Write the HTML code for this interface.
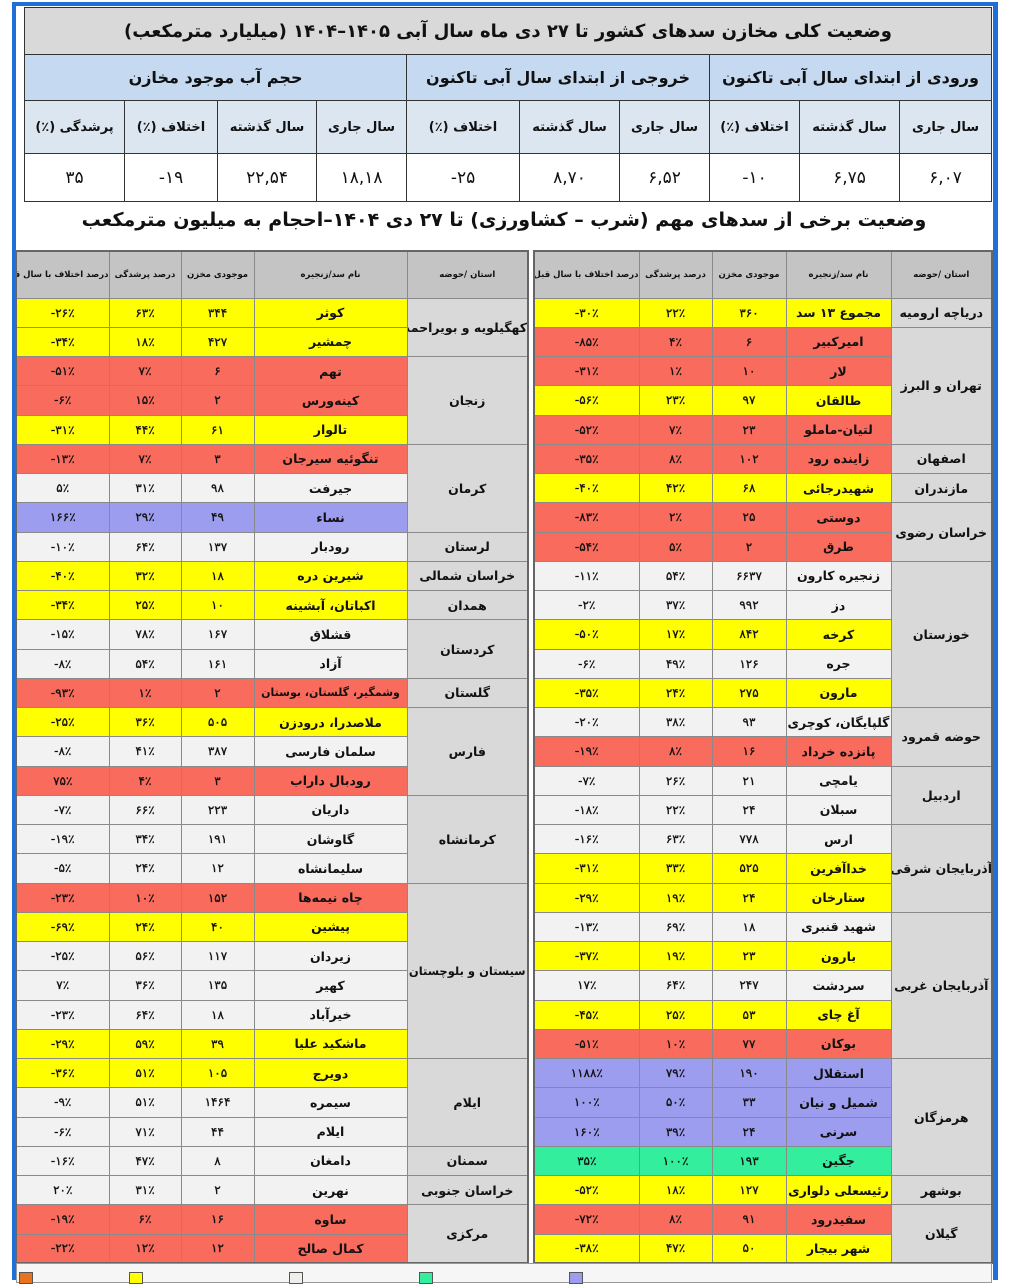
<!DOCTYPE html>
<html><head><meta charset="utf-8">
<style>
*{margin:0;padding:0;box-sizing:border-box}
body{width:1012px;height:1280px;background:#fff;position:relative;overflow:hidden;font-family:"DejaVu Sans","Liberation Sans",sans-serif;font-weight:bold;color:#111}
.frame{position:absolute;background:#1f6fd6}
table{border-collapse:collapse;position:absolute;table-layout:fixed;direction:rtl}
td{text-align:center;vertical-align:middle;overflow:hidden;white-space:nowrap}
#top td{border:1.5px solid #333}
#top .t{background:#d9d9d9;font-size:18px;height:47px}
#top .h{background:#c5d9f1;font-size:16px;height:46px}
#top .s{background:#dce6f1;font-size:13px;height:53px}
#top .d{background:#fff;font-size:17px;font-weight:normal;height:48px;direction:ltr}
.lt td{border:1px solid #8a8a8a;height:29.25px;font-size:12px}
.lt tr.hd td{height:47px;background:#c4c4c4;font-size:8.5px}
.lt td.n{font-size:12.5px;letter-spacing:-0.3px}
.lt td.v{font-size:12px;direction:ltr;font-weight:normal;-webkit-text-stroke:0.3px #111}
.p{background:#d9d9d9;font-size:12.5px!important;font-weight:bold;letter-spacing:-0.3px}
.y td:not(.p){background:#ffff00}
.r td:not(.p){background:#f86b5d}
.w td:not(.p){background:#f2f2f2}
.b td:not(.p){background:#9d9df0}
.g td:not(.p){background:#33ee9c}
.t2{position:absolute;top:209px;left:16px;width:976px;text-align:center;font-size:19px;direction:rtl}
.leg{position:absolute;top:1263px;left:16px;width:976px;height:20px;border:1px solid #999;background:#f6f6f6}
.leg i{position:absolute;top:8px;width:14px;height:12px;border:1px solid #555}
</style></head><body>
<div class="frame" style="left:12px;top:2px;width:986px;height:4px"></div>
<div class="frame" style="left:12px;top:2px;width:4px;height:1278px"></div>
<div class="frame" style="left:993px;top:2px;width:5px;height:1278px"></div>

<table id="top" style="left:24px;top:7px;width:967px">
<colgroup><col style="width:92px"><col style="width:100px"><col style="width:90px"><col style="width:90px"><col style="width:100px"><col style="width:113px"><col style="width:90px"><col style="width:99px"><col style="width:93px"><col style="width:100px"></colgroup>
<tr><td class="t" colspan="10">وضعیت کلی مخازن سدهای کشور تا ۲۷ دی ماه سال آبی ۱۴۰۵–۱۴۰۴ (میلیارد مترمکعب)</td></tr>
<tr><td class="h" colspan="3">ورودی از ابتدای سال آبی تاکنون</td><td class="h" colspan="3">خروجی از ابتدای سال آبی تاکنون</td><td class="h" colspan="4">حجم آب موجود مخازن</td></tr>
<tr><td class="s">سال جاری</td><td class="s">سال گذشته</td><td class="s">اختلاف (٪)</td><td class="s">سال جاری</td><td class="s">سال گذشته</td><td class="s">اختلاف (٪)</td><td class="s">سال جاری</td><td class="s">سال گذشته</td><td class="s">اختلاف (٪)</td><td class="s">پرشدگی (٪)</td></tr>
<tr><td class="d">۶,۰۷</td><td class="d">۶,۷۵</td><td class="d">-۱۰</td><td class="d">۶,۵۲</td><td class="d">۸,۷۰</td><td class="d">-۲۵</td><td class="d">۱۸,۱۸</td><td class="d">۲۲,۵۴</td><td class="d">-۱۹</td><td class="d">۳۵</td></tr>
</table>

<div class="t2">وضعیت برخی از سدهای مهم (شرب – کشاورزی) تا ۲۷ دی ۱۴۰۴–احجام به میلیون مترمکعب</div>

<table class="lt" style="left:533px;top:250px;width:458px;border:2px solid #666">
<colgroup><col style="width:101px"><col style="width:105px"><col style="width:74px"><col style="width:73px"><col style="width:105px"></colgroup>
<tr class="hd"><td>استان /حوضه</td><td>نام سد/زنجیره</td><td>موجودی مخزن</td><td>درصد پرشدگی</td><td>درصد اختلاف با سال قبل</td></tr>
<tr class="y"><td class="p">دریاچه ارومیه</td><td class="n">مجموع ۱۳ سد</td><td class="v">۳۶۰</td><td class="v">۲۲٪</td><td class="v">-۳۰٪</td></tr>
<tr class="r"><td class="p" rowspan="4">تهران و البرز</td><td class="n">امیرکبیر</td><td class="v">۶</td><td class="v">۴٪</td><td class="v">-۸۵٪</td></tr>
<tr class="r"><td class="n">لار</td><td class="v">۱۰</td><td class="v">۱٪</td><td class="v">-۳۱٪</td></tr>
<tr class="y"><td class="n">طالقان</td><td class="v">۹۷</td><td class="v">۲۳٪</td><td class="v">-۵۶٪</td></tr>
<tr class="r"><td class="n">لتیان-ماملو</td><td class="v">۲۳</td><td class="v">۷٪</td><td class="v">-۵۲٪</td></tr>
<tr class="r"><td class="p">اصفهان</td><td class="n">زاینده رود</td><td class="v">۱۰۲</td><td class="v">۸٪</td><td class="v">-۳۵٪</td></tr>
<tr class="y"><td class="p">مازندران</td><td class="n">شهیدرجائی</td><td class="v">۶۸</td><td class="v">۴۲٪</td><td class="v">-۴۰٪</td></tr>
<tr class="r"><td class="p" rowspan="2">خراسان رضوی</td><td class="n">دوستی</td><td class="v">۲۵</td><td class="v">۲٪</td><td class="v">-۸۳٪</td></tr>
<tr class="r"><td class="n">طرق</td><td class="v">۲</td><td class="v">۵٪</td><td class="v">-۵۴٪</td></tr>
<tr class="w"><td class="p" rowspan="5">خوزستان</td><td class="n">زنجیره کارون</td><td class="v">۶۶۳۷</td><td class="v">۵۴٪</td><td class="v">-۱۱٪</td></tr>
<tr class="w"><td class="n">دز</td><td class="v">۹۹۲</td><td class="v">۳۷٪</td><td class="v">-۲٪</td></tr>
<tr class="y"><td class="n">کرخه</td><td class="v">۸۴۲</td><td class="v">۱۷٪</td><td class="v">-۵۰٪</td></tr>
<tr class="w"><td class="n">جره</td><td class="v">۱۲۶</td><td class="v">۴۹٪</td><td class="v">-۶٪</td></tr>
<tr class="y"><td class="n">مارون</td><td class="v">۲۷۵</td><td class="v">۲۴٪</td><td class="v">-۳۵٪</td></tr>
<tr class="w"><td class="p" rowspan="2">حوضه قمرود</td><td class="n">گلپایگان، کوچری</td><td class="v">۹۳</td><td class="v">۳۸٪</td><td class="v">-۲۰٪</td></tr>
<tr class="r"><td class="n">پانزده خرداد</td><td class="v">۱۶</td><td class="v">۸٪</td><td class="v">-۱۹٪</td></tr>
<tr class="w"><td class="p" rowspan="2">اردبیل</td><td class="n">یامچی</td><td class="v">۲۱</td><td class="v">۲۶٪</td><td class="v">-۷٪</td></tr>
<tr class="w"><td class="n">سبلان</td><td class="v">۲۴</td><td class="v">۲۲٪</td><td class="v">-۱۸٪</td></tr>
<tr class="w"><td class="p" rowspan="3">آذربایجان شرقی</td><td class="n">ارس</td><td class="v">۷۷۸</td><td class="v">۶۳٪</td><td class="v">-۱۶٪</td></tr>
<tr class="y"><td class="n">خداآفرین</td><td class="v">۵۲۵</td><td class="v">۳۳٪</td><td class="v">-۳۱٪</td></tr>
<tr class="y"><td class="n">ستارخان</td><td class="v">۲۴</td><td class="v">۱۹٪</td><td class="v">-۲۹٪</td></tr>
<tr class="w"><td class="p" rowspan="5">آذربایجان غربی</td><td class="n">شهید قنبری</td><td class="v">۱۸</td><td class="v">۶۹٪</td><td class="v">-۱۳٪</td></tr>
<tr class="y"><td class="n">بارون</td><td class="v">۲۳</td><td class="v">۱۹٪</td><td class="v">-۳۷٪</td></tr>
<tr class="w"><td class="n">سردشت</td><td class="v">۲۴۷</td><td class="v">۶۴٪</td><td class="v">۱۷٪</td></tr>
<tr class="y"><td class="n">آغ چای</td><td class="v">۵۳</td><td class="v">۲۵٪</td><td class="v">-۴۵٪</td></tr>
<tr class="r"><td class="n">بوکان</td><td class="v">۷۷</td><td class="v">۱۰٪</td><td class="v">-۵۱٪</td></tr>
<tr class="b"><td class="p" rowspan="4">هرمزگان</td><td class="n">استقلال</td><td class="v">۱۹۰</td><td class="v">۷۹٪</td><td class="v">۱۱۸۸٪</td></tr>
<tr class="b"><td class="n">شمیل و نیان</td><td class="v">۳۳</td><td class="v">۵۰٪</td><td class="v">۱۰۰٪</td></tr>
<tr class="b"><td class="n">سرنی</td><td class="v">۲۴</td><td class="v">۳۹٪</td><td class="v">۱۶۰٪</td></tr>
<tr class="g"><td class="n">جگین</td><td class="v">۱۹۳</td><td class="v">۱۰۰٪</td><td class="v">۳۵٪</td></tr>
<tr class="y"><td class="p">بوشهر</td><td class="n">رئیسعلی دلواری</td><td class="v">۱۲۷</td><td class="v">۱۸٪</td><td class="v">-۵۲٪</td></tr>
<tr class="r"><td class="p" rowspan="2">گیلان</td><td class="n">سفیدرود</td><td class="v">۹۱</td><td class="v">۸٪</td><td class="v">-۷۲٪</td></tr>
<tr class="y"><td class="n">شهر بیجار</td><td class="v">۵۰</td><td class="v">۴۷٪</td><td class="v">-۳۸٪</td></tr>
</table>

<table class="lt" style="left:15px;top:250px;width:512px;border:2px solid #666">
<colgroup><col style="width:121px"><col style="width:153px"><col style="width:73px"><col style="width:72px"><col style="width:93px"></colgroup>
<tr class="hd"><td>استان /حوضه</td><td>نام سد/زنجیره</td><td>موجودی مخزن</td><td>درصد پرشدگی</td><td>درصد اختلاف با سال قبل</td></tr>
<tr class="y"><td class="p" rowspan="2">کهگیلویه و بویراحمد</td><td class="n">کوثر</td><td class="v">۳۴۴</td><td class="v">۶۳٪</td><td class="v">-۲۶٪</td></tr>
<tr class="y"><td class="n">چمشیر</td><td class="v">۴۲۷</td><td class="v">۱۸٪</td><td class="v">-۳۴٪</td></tr>
<tr class="r"><td class="p" rowspan="3">زنجان</td><td class="n">تهم</td><td class="v">۶</td><td class="v">۷٪</td><td class="v">-۵۱٪</td></tr>
<tr class="r"><td class="n">کینه‌ورس</td><td class="v">۲</td><td class="v">۱۵٪</td><td class="v">-۶٪</td></tr>
<tr class="y"><td class="n">تالوار</td><td class="v">۶۱</td><td class="v">۴۴٪</td><td class="v">-۳۱٪</td></tr>
<tr class="r"><td class="p" rowspan="3">کرمان</td><td class="n">تنگوئیه سیرجان</td><td class="v">۳</td><td class="v">۷٪</td><td class="v">-۱۳٪</td></tr>
<tr class="w"><td class="n">جیرفت</td><td class="v">۹۸</td><td class="v">۳۱٪</td><td class="v">۵٪</td></tr>
<tr class="b"><td class="n">نساء</td><td class="v">۴۹</td><td class="v">۲۹٪</td><td class="v">۱۶۶٪</td></tr>
<tr class="w"><td class="p">لرستان</td><td class="n">رودبار</td><td class="v">۱۳۷</td><td class="v">۶۴٪</td><td class="v">-۱۰٪</td></tr>
<tr class="y"><td class="p">خراسان شمالی</td><td class="n">شیرین دره</td><td class="v">۱۸</td><td class="v">۳۲٪</td><td class="v">-۴۰٪</td></tr>
<tr class="y"><td class="p">همدان</td><td class="n">اکباتان، آبشینه</td><td class="v">۱۰</td><td class="v">۲۵٪</td><td class="v">-۳۴٪</td></tr>
<tr class="w"><td class="p" rowspan="2">کردستان</td><td class="n">قشلاق</td><td class="v">۱۶۷</td><td class="v">۷۸٪</td><td class="v">-۱۵٪</td></tr>
<tr class="w"><td class="n">آزاد</td><td class="v">۱۶۱</td><td class="v">۵۴٪</td><td class="v">-۸٪</td></tr>
<tr class="r"><td class="p">گلستان</td><td class="n" style="font-size:11px">وشمگیر، گلستان، بوستان</td><td class="v">۲</td><td class="v">۱٪</td><td class="v">-۹۳٪</td></tr>
<tr class="y"><td class="p" rowspan="3">فارس</td><td class="n">ملاصدرا، درودزن</td><td class="v">۵۰۵</td><td class="v">۳۶٪</td><td class="v">-۲۵٪</td></tr>
<tr class="w"><td class="n">سلمان فارسی</td><td class="v">۳۸۷</td><td class="v">۴۱٪</td><td class="v">-۸٪</td></tr>
<tr class="r"><td class="n">رودبال داراب</td><td class="v">۳</td><td class="v">۴٪</td><td class="v">۷۵٪</td></tr>
<tr class="w"><td class="p" rowspan="3">کرمانشاه</td><td class="n">داریان</td><td class="v">۲۲۳</td><td class="v">۶۶٪</td><td class="v">-۷٪</td></tr>
<tr class="w"><td class="n">گاوشان</td><td class="v">۱۹۱</td><td class="v">۳۴٪</td><td class="v">-۱۹٪</td></tr>
<tr class="w"><td class="n">سلیمانشاه</td><td class="v">۱۲</td><td class="v">۲۴٪</td><td class="v">-۵٪</td></tr>
<tr class="r"><td class="p" rowspan="6" style="font-size:11.5px!important">سیستان و بلوچستان</td><td class="n">چاه نیمه‌ها</td><td class="v">۱۵۲</td><td class="v">۱۰٪</td><td class="v">-۲۳٪</td></tr>
<tr class="y"><td class="n">پیشین</td><td class="v">۴۰</td><td class="v">۲۴٪</td><td class="v">-۶۹٪</td></tr>
<tr class="w"><td class="n">زیردان</td><td class="v">۱۱۷</td><td class="v">۵۶٪</td><td class="v">-۲۵٪</td></tr>
<tr class="w"><td class="n">کهیر</td><td class="v">۱۳۵</td><td class="v">۳۶٪</td><td class="v">۷٪</td></tr>
<tr class="w"><td class="n">خیرآباد</td><td class="v">۱۸</td><td class="v">۶۴٪</td><td class="v">-۲۳٪</td></tr>
<tr class="y"><td class="n">ماشکید علیا</td><td class="v">۳۹</td><td class="v">۵۹٪</td><td class="v">-۲۹٪</td></tr>
<tr class="y"><td class="p" rowspan="3">ایلام</td><td class="n">دویرج</td><td class="v">۱۰۵</td><td class="v">۵۱٪</td><td class="v">-۳۶٪</td></tr>
<tr class="w"><td class="n">سیمره</td><td class="v">۱۴۶۴</td><td class="v">۵۱٪</td><td class="v">-۹٪</td></tr>
<tr class="w"><td class="n">ایلام</td><td class="v">۴۴</td><td class="v">۷۱٪</td><td class="v">-۶٪</td></tr>
<tr class="w"><td class="p">سمنان</td><td class="n">دامغان</td><td class="v">۸</td><td class="v">۴۷٪</td><td class="v">-۱۶٪</td></tr>
<tr class="w"><td class="p">خراسان جنوبی</td><td class="n">نهرین</td><td class="v">۲</td><td class="v">۳۱٪</td><td class="v">۲۰٪</td></tr>
<tr class="r"><td class="p" rowspan="2">مرکزی</td><td class="n">ساوه</td><td class="v">۱۶</td><td class="v">۶٪</td><td class="v">-۱۹٪</td></tr>
<tr class="r"><td class="n">کمال صالح</td><td class="v">۱۲</td><td class="v">۱۲٪</td><td class="v">-۲۲٪</td></tr>
</table>

<div class="leg">
<i style="left:2px;background:#e8731e"></i>
<i style="left:112px;background:#ffff00"></i>
<i style="left:272px;background:#eeeeea"></i>
<i style="left:402px;background:#33ee9c"></i>
<i style="left:552px;background:#9d9df0"></i>
</div>
</body></html>
